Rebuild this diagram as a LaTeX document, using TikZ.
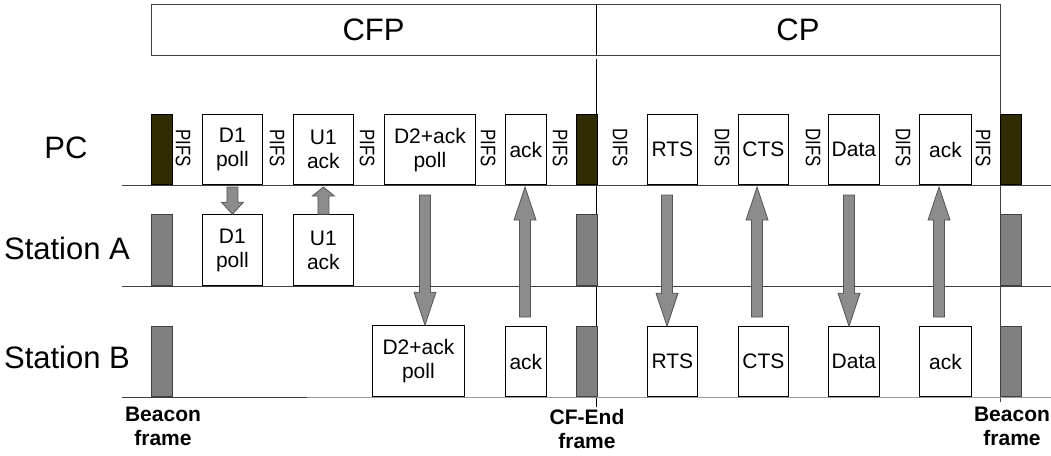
\documentclass[tikz,border=0pt]{standalone}
\usepackage{fontspec}
\setmainfont{Liberation Sans}
\usetikzlibrary{calc}
\definecolor{linegray}{HTML}{404040}
\definecolor{lightline}{HTML}{9A9A9A}
\definecolor{beacondark}{HTML}{302B00}
\definecolor{beacongray}{HTML}{808080}
\definecolor{arrowgray}{HTML}{8C8C8C}
\definecolor{arrowedge}{HTML}{555555}

% vertical block arrow from #1 to the tip #2, head length #3 (pt)
\newcommand\blockarrow[3]{%
  \draw[barrow] let \p1=(#1), \p2=(#2), \n1={ifthenelse(\y1>\y2,#3,-#3)} in
    (\x1-5.5pt,\y1) -- (\x1-5.5pt,\y2+\n1*1pt) -- (\x1-11pt,\y2+\n1*1pt)
    -- (\x2,\y2) -- (\x1+11pt,\y2+\n1*1pt) -- (\x1+5.5pt,\y2+\n1*1pt)
    -- (\x1+5.5pt,\y1) -- cycle;}

\begin{document}
\begin{tikzpicture}[x=1pt,y=-1pt,
  frm/.style={draw=black, fill=white, line width=0.8pt, inner sep=0pt,
    align=center, anchor=south west, font=\fontsize{21}{24}\selectfont},
  pcbar/.style={draw=black, fill=beacondark, line width=0.6pt, anchor=south west,
    inner sep=0pt, minimum width=21, minimum height=70},
  stbar/.style={draw=linegray, fill=beacongray, line width=0.6pt, anchor=south west,
    inner sep=0pt, minimum width=21, minimum height=71},
  gap/.style={rotate=-90, inner sep=0pt, font=\fontsize{21}{24}\selectfont},
  rowlabel/.style={inner sep=0pt, font=\fontsize{31}{36}\selectfont},
  period/.style={inner sep=0pt, font=\fontsize{31}{36}\selectfont},
  marklabel/.style={inner sep=0pt, anchor=north, align=center,
    font=\fontsize{21}{24}\selectfont\bfseries},
  baseline/.style={draw=linegray, line width=1pt},
  barrow/.style={draw=arrowedge, fill=arrowgray, line width=0.8pt, line join=miter}]
\useasboundingbox (0,0) rectangle (1051,455);

% period bar
\draw[linegray, line width=0.9pt] (151,4) rectangle (1000,55);
\node[period] (cfp) at (373.5,30) {CFP};
\node[period] (cp) at (798,30) {CP};
\draw[black, line width=0.9pt] (596.5,4) -- (596.5,55);
\draw[black, line width=0.9pt] (596.5,59) -- (596.5,407);
\draw[linegray, line width=0.9pt] (1000,55) -- (1000,402);

% row labels
\node[rowlabel] (lpc) at (66,148) {PC};
\node[rowlabel] (la) at (67,248) {Station A};
\node[rowlabel] (lb) at (67,357) {Station B};

% time lines
\draw[baseline] (122,185) -- (1051,185);
\draw[baseline] (122,286) -- (1051,286);
\draw[baseline] (122,397) -- (307,397);
\draw[draw=lightline, line width=1pt] (307,397) -- (1051,397);

% PC row
\node[pcbar] (pcBeacon) at (151,185) {};
\node[frm, minimum width=60, minimum height=70] (pcD1) at (202,185) {D1\\poll};
\node[frm, minimum width=60, minimum height=70] (pcU1) at (293,185) {U1\\ack};
\node[frm, minimum width=91, minimum height=70] (pcD2) at (384,185) {D2+ack\\poll};
\node[frm, minimum width=41, minimum height=70] (pcAck) at (505,185) {ack};
\node[pcbar] (pcEnd) at (576,185) {};
\node[frm, minimum width=50, minimum height=70] (pcRTS) at (647,185) {RTS};
\node[frm, minimum width=50, minimum height=70] (pcCTS) at (738,185) {CTS};
\node[frm, minimum width=51, minimum height=70] (pcData) at (828,185) {Data};
\node[frm, minimum width=52, minimum height=70] (pcAckB) at (919,185) {ack};
\node[pcbar] (pcBeaconB) at (1000,185) {};

% inter-frame spaces
\node[gap] (g1) at (183,148) {\scalebox{0.8}[1]{PIFS}};
\node[gap] (g2) at (277,148) {\scalebox{0.8}[1]{PIFS}};
\node[gap] (g3) at (367,148) {\scalebox{0.8}[1]{PIFS}};
\node[gap] (g4) at (488,148) {\scalebox{0.8}[1]{PIFS}};
\node[gap] (g5) at (560,148) {\scalebox{0.8}[1]{PIFS}};
\node[gap] (g6) at (620,148) {\scalebox{0.8}[1]{DIFS}};
\node[gap] (g7) at (722,148) {\scalebox{0.8}[1]{DIFS}};
\node[gap] (g8) at (813,148) {\scalebox{0.8}[1]{DIFS}};
\node[gap] (g9) at (903,148) {\scalebox{0.8}[1]{DIFS}};
\node[gap] (g10) at (983,148) {\scalebox{0.8}[1]{PIFS}};

% Station A row
\node[stbar] (aBeacon) at (151,286) {};
\node[frm, minimum width=60, minimum height=71] (aD1) at (202,286) {D1\\poll};
\node[frm, minimum width=60, minimum height=71] (aU1) at (293,286) {U1\\ack};
\node[stbar] (aEnd) at (576,286) {};
\node[stbar] (aBeaconB) at (1000,286) {};

% Station B row
\node[stbar, minimum height=70] (bBeacon) at (151,397) {};
\node[frm, minimum width=92, minimum height=71] (bD2) at (372,397) {D2+ack\\poll};
\node[frm, minimum width=41, minimum height=70] (bAck) at (505,397) {ack};
\node[stbar, minimum height=70] (bEnd) at (576,397) {};
\node[frm, minimum width=50, minimum height=70] (bRTS) at (647,397) {RTS};
\node[frm, minimum width=50, minimum height=70] (bCTS) at (738,397) {CTS};
\node[frm, minimum width=51, minimum height=70] (bData) at (828,397) {Data};
\node[frm, minimum width=52, minimum height=70] (bAckB) at (919,397) {ack};
\node[stbar, minimum height=70] (bBeaconB) at (1000,397) {};

% frame markers
\node[marklabel] (mBeacon) at (163,407) {Beacon\\frame};
\node[marklabel] (mEnd) at (587,409) {CF-End\\frame};
\node[marklabel] (mBeaconB) at (1012,407) {Beacon\\frame};

% transfers between stations
\coordinate (s1) at (pcD1.south |- 0,187);
\coordinate (t1) at (aD1.north);
\coordinate (s2) at (aU1.north);
\coordinate (t2) at (pcU1.south |- 0,187);
\coordinate (s3) at (425,195);
\coordinate (t3) at (bD2.north -| 425,0);
\coordinate (s4) at (525,317);
\coordinate (t4) at (525,187);
\coordinate (s5) at (667,195);
\coordinate (t5) at (bRTS.north -| 667,0);
\coordinate (s6) at (757,317);
\coordinate (t6) at (757,187);
\coordinate (s7) at (849,195);
\coordinate (t7) at (bData.north -| 849,0);
\coordinate (s8) at (939,317);
\coordinate (t8) at (939,187);

\blockarrow{s1}{t1}{12}
\blockarrow{s2}{t2}{9}
\blockarrow{s3}{t3}{33}
\blockarrow{s4}{t4}{33}
\blockarrow{s5}{t5}{33}
\blockarrow{s6}{t6}{33}
\blockarrow{s7}{t7}{33}
\blockarrow{s8}{t8}{33}
\end{tikzpicture}
\end{document}
